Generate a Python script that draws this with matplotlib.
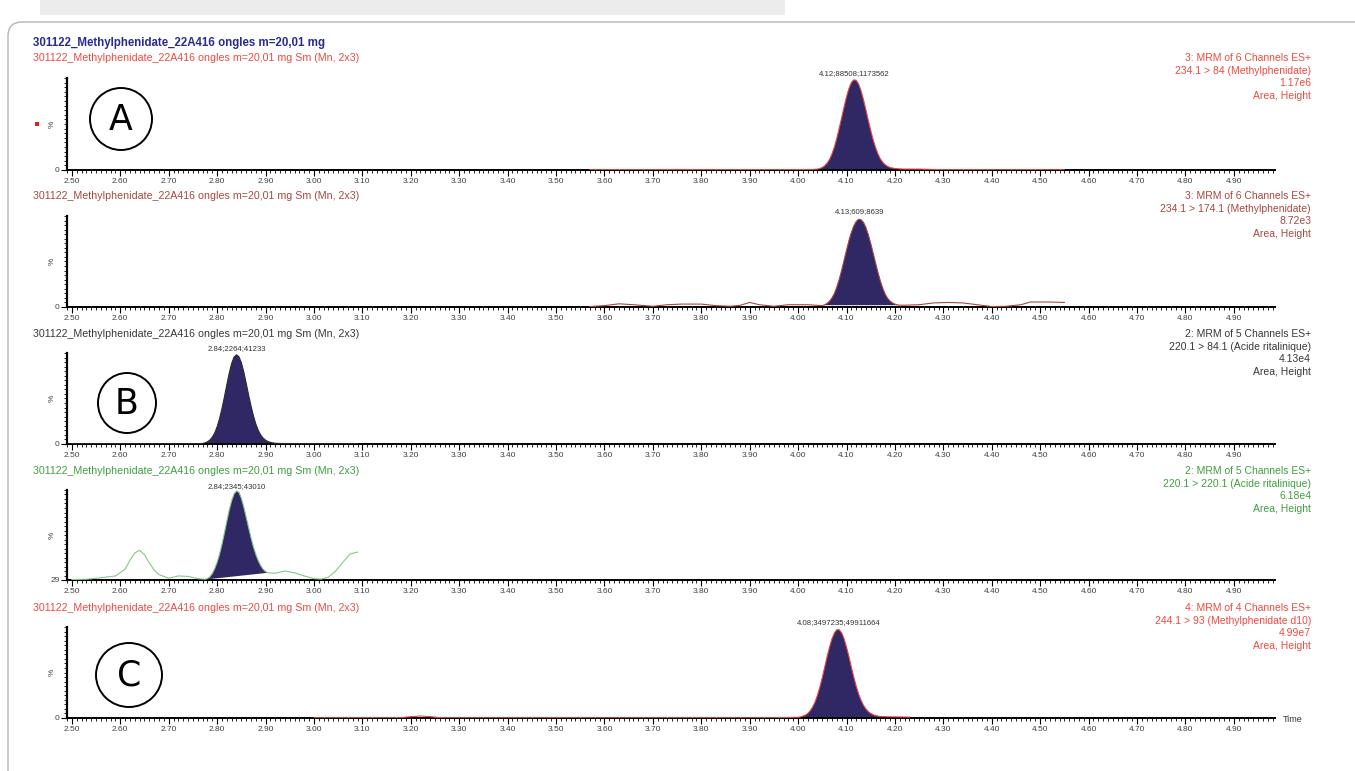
import numpy as np
import matplotlib
matplotlib.use("Agg")
import matplotlib.pyplot as plt
from matplotlib.patches import Rectangle, Ellipse, FancyBboxPatch
from matplotlib.ticker import MultipleLocator

plt.rcParams["font.family"] = ["Liberation Sans", "DejaVu Sans"]

W, H = 1355, 771

# ---- chromatogram data (retention time in min, intensity in %) ----
X_TICK_LABELS = ["2.50", "2.60", "2.70", "2.80", "2.90", "3.00", "3.10", "3.20",
                 "3.30", "3.40", "3.50", "3.60", "3.70", "3.80", "3.90", "4.00",
                 "4.10", "4.20", "4.30", "4.40", "4.50", "4.60", "4.70", "4.80", "4.90"]

# panel 1: 234.1 > 84 (Methylphenidate)
p1_x = [3.57, 3.62, 3.68, 3.75, 3.82, 3.90, 3.96, 4.00, 4.03,
        4.040, 4.045, 4.050, 4.055, 4.060, 4.065, 4.070, 4.075, 4.080, 4.085,
        4.090, 4.095, 4.100, 4.105, 4.110, 4.115, 4.120, 4.125, 4.130, 4.135,
        4.140, 4.145, 4.150, 4.155, 4.160, 4.165, 4.170, 4.175, 4.180, 4.185,
        4.190, 4.200, 4.210, 4.22, 4.25, 4.27, 4.30, 4.36, 4.42, 4.48, 4.55]
p1_y = [0.3, 0.5, 0.4, 0.6, 0.4, 0.5, 0.4, 0.5, 0.6,
        1.0, 1.6, 2.8, 4.6, 7.5, 11.5, 17.5, 25, 34.5, 45.5,
        57, 68.5, 79.5, 88.5, 95, 98, 97.5, 93.5, 86, 76.5,
        65.5, 54, 43, 33, 24.5, 17.5, 12, 8.3, 5.7, 3.9,
        2.7, 1.6, 1.2, 1.0, 1.0, 0.7, 0.4, 0.5, 0.3, 0.5, 0.3]

# panel 2: 234.1 > 174.1 (Methylphenidate)
p2_x = [3.57, 3.60, 3.63, 3.66, 3.70, 3.73, 3.76, 3.80, 3.83, 3.86, 3.88, 3.90,
        3.92, 3.95, 3.98, 4.02, 4.035,
        4.050, 4.055, 4.060, 4.065, 4.070, 4.075, 4.080, 4.085, 4.090, 4.095,
        4.100, 4.105, 4.110, 4.115, 4.120, 4.125, 4.130, 4.135, 4.140, 4.145,
        4.150, 4.155, 4.160, 4.165, 4.170, 4.175, 4.180, 4.185, 4.190, 4.195,
        4.200, 4.205, 4.210,
        4.22, 4.25, 4.28, 4.31, 4.34, 4.37, 4.40, 4.43, 4.46, 4.48, 4.52, 4.55]
p2_y = [0.5, 1.5, 3.5, 2.5, 0.8, 2.5, 3.2, 3.2, 1.5, 0.8, 1.8, 5,
        2.5, 0.8, 2.5, 2.5, 2.0,
        1.5, 2.5, 4, 6.5, 10, 15, 22, 30.5, 40.5, 51.5,
        62.5, 73, 82, 89, 94, 96.5, 96, 93, 87.5, 79.5,
        70, 59.5, 48.5, 38, 28.5, 20.5, 14, 9.5, 6.5, 4.5,
        3.2, 2.4, 2.0,
        2.0, 2.5, 4.5, 5, 4.5, 2.5, 0.5, 0.8, 2.5, 5.5, 5.5, 5]

# panel 3: 220.1 > 84.1 (Acide ritalinique)
p3_x = [2.50, 2.58, 2.66, 2.72, 2.76,
        2.770, 2.775, 2.780, 2.785, 2.790, 2.795, 2.800, 2.805, 2.810, 2.815,
        2.820, 2.825, 2.830, 2.835, 2.840, 2.845, 2.850, 2.855, 2.860, 2.865,
        2.870, 2.875, 2.880, 2.885, 2.890, 2.895, 2.900, 2.905, 2.910, 2.915,
        2.920, 2.93, 2.96, 3.00, 3.05, 3.09]
p3_y = [0.3, 0.4, 0.3, 0.4, 0.4,
        0.6, 1.2, 2.4, 4.3, 7.4, 12, 18.8, 27.7, 38.7, 51.4,
        64.8, 77.7, 88.4, 95.5, 98, 96, 89.5, 79.5, 67, 54,
        42, 31, 22, 15, 10, 6.5, 4.2, 2.7, 1.8, 1.2,
        0.8, 0.6, 0.5, 0.4, 0.4, 0.4]

# panel 4: 220.1 > 220.1 (Acide ritalinique)
p4_x = [2.50, 2.53, 2.56, 2.59, 2.61, 2.62, 2.63, 2.64, 2.65, 2.66, 2.67, 2.68,
        2.70, 2.72, 2.74, 2.76, 2.775,
        2.780, 2.785, 2.790, 2.795, 2.800, 2.805, 2.810, 2.815, 2.820, 2.825,
        2.830, 2.835, 2.840, 2.845, 2.850, 2.855, 2.860, 2.865, 2.870, 2.875,
        2.880, 2.885, 2.890, 2.895, 2.900, 2.905,
        2.92, 2.94, 2.96, 2.98, 3.00, 3.015, 3.03, 3.045, 3.06, 3.075, 3.09]
p4_y = [0.5, 0.8, 2.5, 4.5, 12, 22, 30, 33, 28, 19, 11, 6,
        2, 4.5, 4, 1.5, 0.8,
        1.5, 3.5, 7, 12.5, 19.5, 28.5, 39.5, 52, 65, 77.5,
        88, 95.5, 99, 97.5, 91, 81.5, 70, 58.5, 47, 37,
        28.5, 21.5, 16, 12, 9.5, 8,
        7.5, 10, 8, 4.5, 1.5, 1, 3, 10, 20, 29, 31]

# panel 5: 244.1 > 93 (Methylphenidate d10)
p5_x = [3.00, 3.10, 3.18, 3.20, 3.22, 3.24, 3.26, 3.35, 3.50, 3.65, 3.80, 3.90,
        3.97, 4.00,
        4.005, 4.010, 4.015, 4.020, 4.025, 4.030, 4.035, 4.040, 4.045, 4.050,
        4.055, 4.060, 4.065, 4.070, 4.075, 4.080, 4.085, 4.090, 4.095, 4.100,
        4.105, 4.110, 4.115, 4.120, 4.125, 4.130, 4.135, 4.140, 4.145, 4.150,
        4.155, 4.160, 4.165, 4.170, 4.175,
        4.19, 4.21, 4.23]
p5_y = [0.3, 0.4, 0.4, 1.5, 2.2, 1.5, 0.4, 0.3, 0.4, 0.3, 0.4, 0.3,
        0.5, 0.8,
        1.2, 2, 3.2, 5, 8, 12, 17.5, 25, 34, 44.5,
        56, 67.5, 78, 87, 93.5, 97, 97, 93.5, 87, 78,
        67.5, 56, 45, 35, 26.5, 19.5, 14, 10, 7, 5,
        3.6, 2.7, 2.1, 1.7, 1.5,
        1.3, 1.2, 1.0]

# integrated peak windows (start, end) and the drop-line baseline heights
peak_start = [4.030, 4.035, 2.770, 2.780, 4.000]
peak_end = [4.270, 4.220, 2.930, 2.905, 4.210]
peak_base = [(0.5, 0.7), (2.0, 2.0), (0.5, 0.6), (0.8, 8.0), (0.8, 1.2)]
peak_apex = [4.117, 4.127, 2.840, 2.840, 4.083]
peak_labels = ["4.12;88508;1173562", "4.13;609;8639", "2.84;2264;41233",
               "2.84;2345;43010", "4.08;3497235;49911664"]
y_zero_labels = ["0", "0", "0", "29", "0"]

sample = "301122_Methylphenidate_22A416 ongles m=20,01 mg"
headers = [sample + " Sm (Mn, 2x3)"] * 5
channel_info = [
    ["3: MRM of 6 Channels ES+", "234.1 > 84 (Methylphenidate)", "1.17e6", "Area, Height"],
    ["3: MRM of 6 Channels ES+", "234.1 > 174.1 (Methylphenidate)", "8.72e3", "Area, Height"],
    ["2: MRM of 5 Channels ES+", "220.1 > 84.1 (Acide ritalinique)", "4.13e4", "Area, Height"],
    ["2: MRM of 5 Channels ES+", "220.1 > 220.1 (Acide ritalinique)", "6.18e4", "Area, Height"],
    ["4: MRM of 4 Channels ES+", "244.1 > 93 (Methylphenidate d10)", "4.99e7", "Area, Height"],
]
panel_letters = {0: "A", 2: "B", 4: "C"}

traces = [(p1_x, p1_y), (p2_x, p2_y), (p3_x, p3_y), (p4_x, p4_y), (p5_x, p5_y)]

# ---- layout (pixels) ----
X0, X1 = 67, 1275
BASES = [170, 307, 444, 580, 718]
TOPS = [78, 216, 353, 490, 627]
HEAD_Y = [58, 196, 334, 471, 608]
LETTER_POS = {0: (121, 119, 62, 62), 2: (127, 403, 58, 60), 4: (129, 675, 66, 64)}

NAVY = "#2f2865"
trace_colors = ["#e8453c", "#a8483e", "#2a2a2a", "#86c886", "#e8453c"]
text_colors = ["#ee4a40", "#a8483e", "#383838", "#3f9f3f", "#ee4a40"]

fig = plt.figure(figsize=(W / 100, H / 100), dpi=100)
bg = fig.add_axes([0, 0, 1, 1])
bg.set_xlim(0, W)
bg.set_ylim(H, 0)
bg.axis("off")

# page furniture: grey strip on top and rounded frame
bg.add_patch(Rectangle((40, -2), 745, 17, facecolor="#ececec", edgecolor="none"))
bg.add_patch(FancyBboxPatch((8, 22), 1420, 800, boxstyle="round,pad=0,rounding_size=14",
                            facecolor="none", edgecolor="#b5b5b5", linewidth=1.0))

bg.text(33, 43, sample, fontsize=8.3, fontweight="bold", color="#2b2b8c",
        ha="left", va="center")

for i, (tx, ty) in enumerate(traces):
    base, top = BASES[i], TOPS[i]
    ax = fig.add_axes([X0 / W, 1 - base / H, (X1 - X0) / W, (base - top) / H])
    ax.set_facecolor("none")
    ax.set_xlim(2.49, 4.985)
    ax.set_ylim(0, 100)
    for s in ("top", "right"):
        ax.spines[s].set_visible(False)
    ax.spines["left"].set_linewidth(1.6)
    ax.spines["bottom"].set_linewidth(1.4)

    ax.set_xticks([float(t) for t in X_TICK_LABELS])
    ax.set_xticklabels(X_TICK_LABELS)
    ax.xaxis.set_minor_locator(MultipleLocator(0.01))
    ax.set_yticks([0])
    ax.set_yticklabels([y_zero_labels[i]])
    ax.yaxis.set_minor_locator(MultipleLocator(5))
    ax.tick_params(axis="both", which="major", length=4, width=0.8, labelsize=6,
                   pad=1.5, labelcolor="#404040")
    ax.tick_params(axis="both", which="minor", length=2, width=0.6)

    tx = np.asarray(tx)
    ty = np.asarray(ty)
    sel = (tx >= peak_start[i]) & (tx <= peak_end[i])
    px, py = tx[sel], ty[sel]
    b0, b1 = peak_base[i]
    ax.fill(np.r_[px, px[-1], px[0]], np.r_[py, b1, b0], color=NAVY, lw=0, zorder=2)
    ax.plot(tx, ty, color=trace_colors[i], lw=0.8, zorder=3)

    ax.text(peak_apex[i], 100.5, peak_labels[i], fontsize=5.6, color="#333333",
            ha="center", va="bottom", clip_on=False)
    ax.text(-0.009, 0.5, "%", transform=ax.transAxes, rotation=90, fontsize=6,
            color="#404040", ha="right", va="center")

    bg.text(33, HEAD_Y[i], headers[i], fontsize=7.7, color=text_colors[i],
            ha="left", va="center")
    for k, line in enumerate(channel_info[i]):
        bg.text(1311, HEAD_Y[i] + k * 12.6, line, fontsize=7.5, color=text_colors[i],
                ha="right", va="center")

    if i in panel_letters:
        cx, cy, ew, eh = LETTER_POS[i]
        bg.add_patch(Ellipse((cx, cy), ew, eh, facecolor="none", edgecolor="black", lw=1.4))
        bg.text(cx, cy + 1, panel_letters[i], fontsize=25, color="black",
                ha="center", va="center", family=["DejaVu Sans"])

bg.add_patch(Rectangle((35, 122), 4, 4, facecolor="#e02020", edgecolor="none"))
bg.text(1283, 719, "Time", fontsize=6.5, color="#333333", ha="left", va="center")

fig.savefig("out.png", dpi=100)
